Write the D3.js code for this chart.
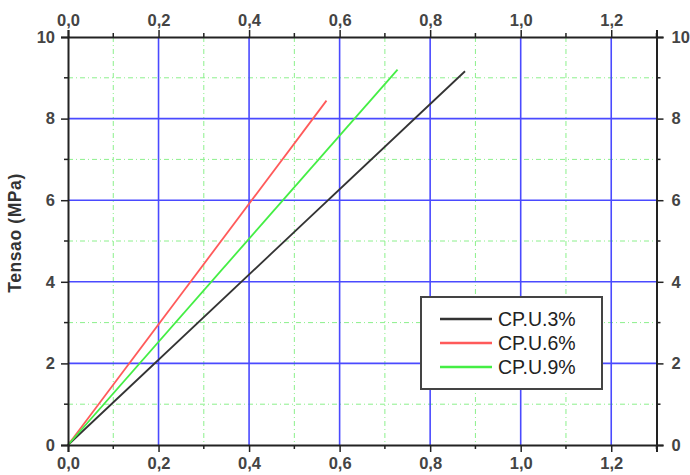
<!DOCTYPE html>
<html><head><meta charset="utf-8">
<script src="https://cdn.jsdelivr.net/npm/d3@7"></script>
<style>body{margin:0;background:#fff}</style></head>
<body><svg id="c" width="690" height="475"></svg>
<script>
const seriesNames = ["CP.U.3%", "CP.U.6%", "CP.U.9%"];
const seriesColors = ["#333333", "#ff5a5a", "#44ee44"];
const strain3 = [0, 0.877];
const stress3 = [0, 9.16];
const strain6 = [0, 0.571];
const stress6 = [0, 8.44];
const strain9 = [0, 0.728];
const stress9 = [0, 9.20];
const xTicks = [0, 0.2, 0.4, 0.6, 0.8, 1.0, 1.2];
const yTicks = [0, 2, 4, 6, 8, 10];
const xMinor = [0.1, 0.3, 0.5, 0.7, 0.9, 1.1];
const yMinor = [1, 3, 5, 7, 9];
const yLabel = "Tensao (MPa)";

const svg = d3.select("#c");
const L = 68, R = 656.5, T = 37, B = 445;
const x = d3.scaleLinear().domain([0, 1.3]).range([L, R]);
const y = d3.scaleLinear().domain([0, 10]).range([B, T]);
const fmt = d => d3.format(".1f")(d).replace(".", ",");
const FF = "Liberation Sans, Arial, sans-serif";

// minor grid
const g = svg.append("g");
g.selectAll(".mx").data(xMinor).join("line")
  .attr("x1", d => x(d)).attr("x2", d => x(d)).attr("y1", T).attr("y2", B)
  .attr("stroke", "#8cf08c").attr("stroke-width", 1).attr("stroke-dasharray", "5,3,1,3");
g.selectAll(".my").data(yMinor).join("line")
  .attr("y1", d => y(d)).attr("y2", d => y(d)).attr("x1", L).attr("x2", R)
  .attr("stroke", "#8cf08c").attr("stroke-width", 1).attr("stroke-dasharray", "5,3,1,3");
// major grid
g.selectAll(".Mx").data(xTicks.filter(d => d > 0)).join("line")
  .attr("x1", d => x(d)).attr("x2", d => x(d)).attr("y1", T).attr("y2", B)
  .attr("stroke", "#4a4aff").attr("stroke-width", 1.6);
g.selectAll(".My").data(yTicks.filter(d => d > 0 && d < 10)).join("line")
  .attr("y1", d => y(d)).attr("y2", d => y(d)).attr("x1", L).attr("x2", R)
  .attr("stroke", "#4a4aff").attr("stroke-width", 1.6);

// series
const line = d3.line().x(d => x(d[0])).y(d => y(d[1]));
const series = [
  d3.zip(strain3, stress3),
  d3.zip(strain6, stress6),
  d3.zip(strain9, stress9)
];
series.forEach((s, i) => {
  svg.append("path").datum(s).attr("d", line).attr("fill", "none")
    .attr("stroke", seriesColors[i]).attr("stroke-width", 1.8);
});

// axes
const axStyle = (sel) => {
  sel.select(".domain").attr("stroke", "#222").attr("stroke-width", 2);
  sel.selectAll(".tick line").attr("stroke", "#222").attr("stroke-width", 1.5);
  sel.selectAll(".tick text").attr("fill", "#444").attr("font-family", FF)
    .attr("font-size", 16.5).attr("font-weight", "bold");
};
svg.append("g").attr("transform", `translate(0,${B})`)
  .call(d3.axisBottom(x).tickValues(xTicks).tickFormat(fmt).tickSizeOuter(0).tickSize(7).tickPadding(5)).call(axStyle);
svg.append("g").attr("transform", `translate(0,${T})`)
  .call(d3.axisTop(x).tickValues(xTicks).tickFormat(fmt).tickSizeOuter(0).tickSize(7).tickPadding(4)).call(axStyle);
svg.append("g").attr("transform", `translate(${L},0)`)
  .call(d3.axisLeft(y).tickValues(yTicks).tickSizeOuter(0).tickSize(7).tickPadding(6)).call(axStyle);
svg.append("g").attr("transform", `translate(${R},0)`)
  .call(d3.axisRight(y).tickValues(yTicks).tickSizeOuter(0).tickSize(7).tickPadding(8)).call(axStyle);
// minor ticks
const mt = svg.append("g").attr("stroke", "#222").attr("stroke-width", 1.5);
xMinor.concat([1.3]).forEach(d => {
  mt.append("line").attr("x1", x(d)).attr("x2", x(d)).attr("y1", B).attr("y2", B + 4);
  mt.append("line").attr("x1", x(d)).attr("x2", x(d)).attr("y1", T).attr("y2", T - 4);
});
yMinor.forEach(d => {
  mt.append("line").attr("y1", y(d)).attr("y2", y(d)).attr("x1", L).attr("x2", L - 4);
  mt.append("line").attr("y1", y(d)).attr("y2", y(d)).attr("x1", R).attr("x2", R + 4);
});

// y label
svg.append("text").attr("transform", `translate(21,233) rotate(-90)`)
  .attr("text-anchor", "middle").attr("font-family", FF).attr("letter-spacing", 0.6)
  .attr("font-size", 17.5).attr("font-weight", "bold").attr("fill", "#333").text(yLabel);

// legend
const lg = svg.append("g");
lg.append("rect").attr("x", 421).attr("y", 297).attr("width", 181).attr("height", 92)
  .attr("fill", "#fff").attr("stroke", "#444").attr("stroke-width", 2);
seriesNames.forEach((n, i) => {
  const yy = 319 + i * 24;
  lg.append("line").attr("x1", 440).attr("x2", 492).attr("y1", yy).attr("y2", yy)
    .attr("stroke", seriesColors[i]).attr("stroke-width", 2.5);
  lg.append("text").attr("x", 498).attr("y", yy + 7).attr("font-family", FF)
    .attr("font-size", 19.5).attr("fill", "#222").text(n);
});
</script></body></html>
